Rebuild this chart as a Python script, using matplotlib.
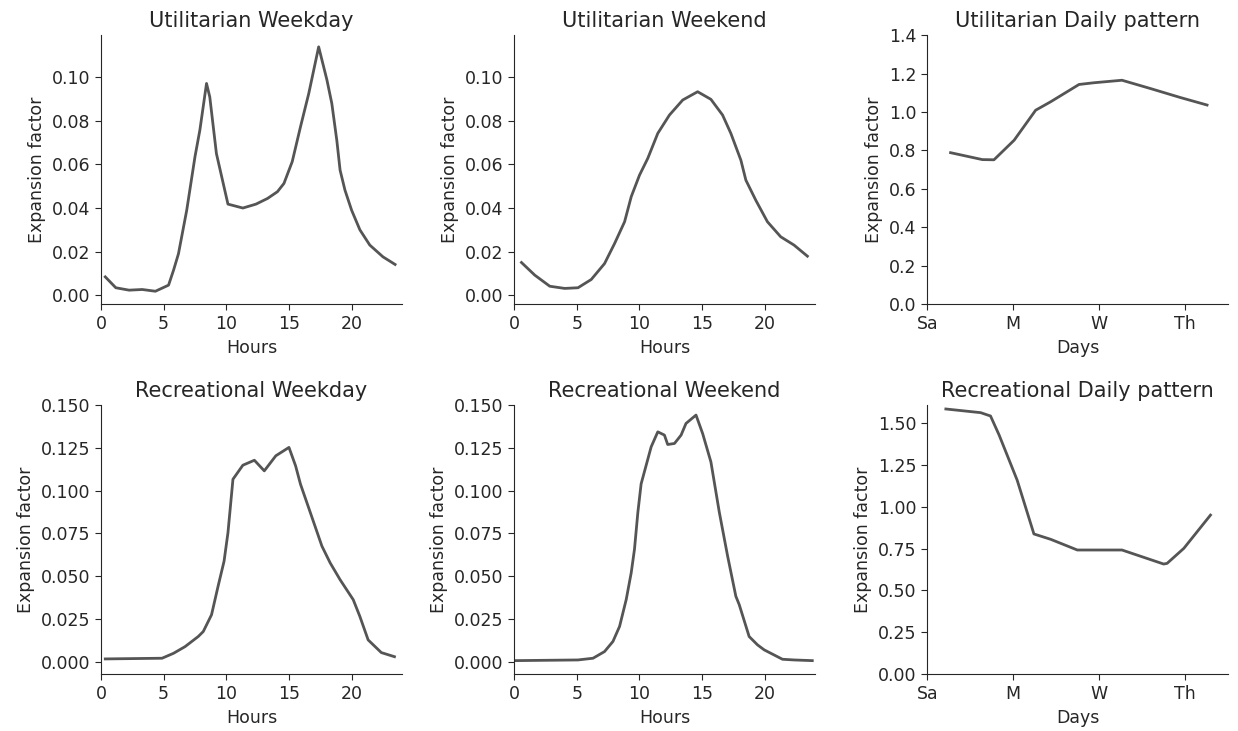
import numpy as np
import matplotlib.pyplot as plt

# hourly profiles (hour, expansion factor)
util_wd_h = [0.34, 1.18, 2.24, 3.29, 4.34, 5.39, 5.79, 6.18, 6.84, 7.5, 7.89, 8.42, 8.68, 9.21,
             10.13, 11.32, 12.37, 13.29, 14.08, 14.6, 15.26, 15.92, 16.58, 17.37, 18.03, 18.42,
             18.82, 19.08, 19.47, 20.0, 20.66, 21.45, 22.5, 23.47]
util_wd_v = [0.0084, 0.0034, 0.0023, 0.0026, 0.0018, 0.0046, 0.0115, 0.019, 0.039, 0.0636, 0.0758,
             0.0972, 0.091, 0.065, 0.0418, 0.040, 0.0418, 0.0444, 0.0475, 0.0513, 0.0613, 0.0773,
             0.0926, 0.114, 0.0988, 0.088, 0.071, 0.0574, 0.0482, 0.039, 0.030, 0.023, 0.0176, 0.0141]

util_we_h = [0.58, 1.64, 2.84, 4.03, 5.09, 6.15, 7.21, 8.01, 8.81, 9.34, 10.0, 10.66, 11.46, 12.39,
             13.45, 14.64, 15.7, 16.63, 17.29, 18.09, 18.49, 19.28, 20.21, 21.27, 22.33, 23.4]
util_we_v = [0.0150, 0.0092, 0.0041, 0.0031, 0.0034, 0.0072, 0.0145, 0.0237, 0.0337, 0.0452, 0.0551,
             0.0628, 0.0743, 0.0827, 0.0896, 0.0934, 0.0899, 0.0827, 0.0743, 0.062, 0.0528, 0.0436,
             0.0337, 0.0268, 0.023, 0.0179]

rec_wd_h = [0.34, 4.87, 5.79, 6.71, 7.76, 8.16, 8.82, 9.34, 9.82, 10.13, 10.53, 11.32, 12.24, 13.03,
            13.95, 15.0, 15.53, 15.92, 16.71, 17.63, 18.29, 19.08, 20.13, 20.66, 21.32, 22.37, 23.42]
rec_wd_v = [0.0016, 0.002, 0.0049, 0.0088, 0.0147, 0.0176, 0.0274, 0.044, 0.0587, 0.0753, 0.1066,
            0.1148, 0.1177, 0.1115, 0.1203, 0.1252, 0.1144, 0.1037, 0.087, 0.0675, 0.0577, 0.0479,
            0.0362, 0.0264, 0.0127, 0.0053, 0.0029]

rec_we_h = [0.0, 5.09, 6.29, 7.21, 7.88, 8.41, 8.94, 9.34, 9.6, 9.87, 10.13, 10.53, 10.93, 11.46,
            11.99, 12.25, 12.79, 13.32, 13.71, 14.51, 15.04, 15.7, 16.37, 17.03, 17.69, 17.96,
            18.75, 19.42, 19.95, 20.48, 21.41, 22.33, 23.79]
rec_we_v = [0.0006, 0.001, 0.002, 0.0059, 0.0118, 0.0206, 0.0363, 0.052, 0.0657, 0.0873, 0.1039,
            0.1147, 0.1255, 0.1343, 0.1324, 0.1269, 0.1275, 0.1324, 0.1392, 0.1441, 0.1333, 0.1167,
            0.0873, 0.0618, 0.0382, 0.0333, 0.0147, 0.0098, 0.0069, 0.0049, 0.0014, 0.001, 0.0006]

# daily pattern (day position, expansion factor)
util_day_x = [0.54, 1.28, 1.55, 2.02, 2.52, 2.87, 3.53, 3.88, 4.53, 5.19, 5.89, 6.51]
util_day_v = [0.788, 0.752, 0.751, 0.853, 1.009, 1.053, 1.143, 1.152, 1.165, 1.122, 1.075, 1.036]

rec_day_x = [0.43, 1.24, 1.47, 1.67, 2.09, 2.48, 2.87, 3.49, 4.53, 5.50, 5.58, 5.97, 6.59]
rec_day_v = [1.586, 1.564, 1.544, 1.430, 1.160, 0.838, 0.806, 0.742, 0.742, 0.658, 0.662, 0.752, 0.951]

day_ticks = [0, 2, 4, 6]
day_labels = ['Sa', 'M', 'W', 'Th']

plt.rcParams['font.family'] = 'DejaVu Sans'
plt.rcParams['font.size'] = 12.5
plt.rcParams['xtick.labelsize'] = 12.5
plt.rcParams['ytick.labelsize'] = 12.5
plt.rcParams['axes.labelsize'] = 12.5
plt.rcParams['text.color'] = '0.15'
plt.rcParams['axes.labelcolor'] = '0.15'
plt.rcParams['xtick.color'] = '0.15'
plt.rcParams['ytick.color'] = '0.15'
plt.rcParams['axes.edgecolor'] = '0.15'
plt.rcParams['xtick.major.size'] = 4.4
plt.rcParams['ytick.major.size'] = 4.4

fig, axes = plt.subplots(2, 3, figsize=(12.38, 7.31), dpi=100)
fig.subplots_adjust(left=0.0816, right=0.992, top=0.952, bottom=0.078, wspace=0.374, hspace=0.375)

lc = '#555555'
panels = [
    (axes[0, 0], util_wd_h, util_wd_v, 'Utilitarian Weekday'),
    (axes[0, 1], util_we_h, util_we_v, 'Utilitarian Weekend'),
    (axes[1, 0], rec_wd_h, rec_wd_v, 'Recreational Weekday'),
    (axes[1, 1], rec_we_h, rec_we_v, 'Recreational Weekend'),
]
for ax, x, y, title in panels:
    ax.plot(x, y, color=lc, lw=2)
    ax.set_xlim(0, 24)
    ax.set_xticks([0, 5, 10, 15, 20])
    ax.set_xlabel('Hours')
    ax.set_title(title, fontsize=15)

for ax in axes[0, :2]:
    ax.set_ylim(-0.0041, 0.1194)
    ax.set_yticks(np.arange(0, 0.101, 0.02))
    ax.yaxis.set_major_formatter(plt.FormatStrFormatter('%.2f'))
for ax in axes[1, :2]:
    ax.set_ylim(-0.0072, 0.150)
    ax.set_yticks(np.arange(0, 0.151, 0.025))
    ax.yaxis.set_major_formatter(plt.FormatStrFormatter('%.3f'))

ax = axes[0, 2]
ax.plot(util_day_x, util_day_v, color=lc, lw=2)
ax.set_ylim(0, 1.4)
ax.set_title('Utilitarian Daily pattern', fontsize=15)

ax = axes[1, 2]
ax.plot(rec_day_x, rec_day_v, color=lc, lw=2)
ax.set_ylim(0, 1.61)
ax.set_yticks(np.arange(0, 1.51, 0.25))
ax.yaxis.set_major_formatter(plt.FormatStrFormatter('%.2f'))
ax.set_title('Recreational Daily pattern', fontsize=15)

for ax in axes[:, 2]:
    ax.set_xlim(0, 7)
    ax.set_xticks(day_ticks)
    ax.set_xticklabels(day_labels)
    ax.set_xlabel('Days')

for ax in axes.flat:
    ax.set_ylabel('Expansion factor')
    ax.spines['top'].set_visible(False)
    ax.spines['right'].set_visible(False)

fig.savefig('out.png', dpi=100)
